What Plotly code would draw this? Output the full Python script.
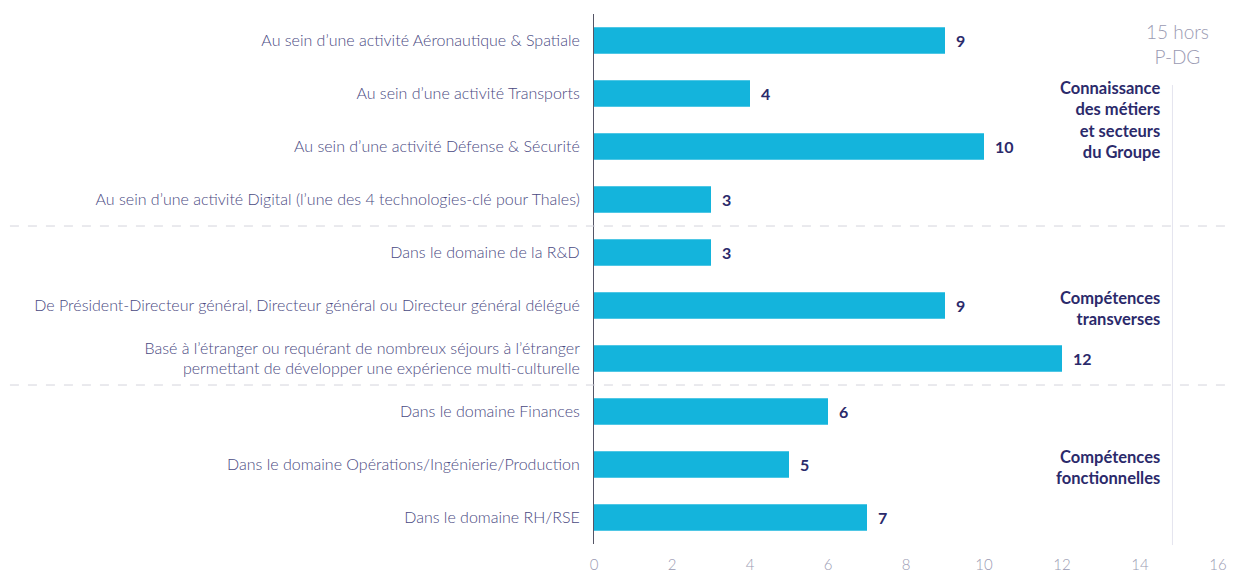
import plotly.graph_objects as go

categories = [
    "Au sein d\u2019une activité Aéronautique & Spatiale",
    "Au sein d\u2019une activité Transports",
    "Au sein d\u2019une activité Défense & Sécurité",
    "Au sein d\u2019une activité Digital (l\u2019une des 4 technologies-clé pour Thales)",
    "Dans le domaine de la R&D",
    "De Président-Directeur général, Directeur général ou Directeur général délégué",
    "Basé à l\u2019étranger ou requérant de nombreux séjours à l\u2019étranger<br>permettant de développer une expérience multi-culturelle",
    "Dans le domaine Finances",
    "Dans le domaine Opérations/Ingénierie/Production",
    "Dans le domaine RH/RSE",
]
values = [9, 4, 10, 3, 3, 9, 12, 6, 5, 7]
x_ticks = [0, 2, 4, 6, 8, 10, 12, 14, 16]
groups = [
    ("Connaissance<br>des métiers<br>et secteurs<br>du Groupe", 1.5),
    ("Compétences<br>transverses", 5.05),
    ("Compétences<br>fonctionnelles", 8.05),
]
separators = [3.5, 6.5]
header = "15 hors<br>P-DG"

BAR = "#14b4dc"
NAVY = "#2b2a6b"
LABEL = "#4a4a82"
GREY = "#9a9ab2"
FONT = "Lato"

idx = list(range(len(categories)))

fig = go.Figure()
fig.add_trace(go.Bar(
    x=values, y=idx, orientation="h",
    marker=dict(color=BAR, line=dict(width=0)),
    width=0.5, hoverinfo="skip",
))

for i, v in zip(idx, values):
    fig.add_annotation(x=v, y=i, text=f"<b>{v}</b>", showarrow=False,
                       xanchor="left", xshift=9,
                       font=dict(family=FONT, size=16, color=NAVY))

for txt, yv in groups:
    fig.add_annotation(x=0.911, xref="paper", y=yv, text=f"<b>{txt}</b>",
                       showarrow=False, xanchor="right", align="right",
                       font=dict(family=FONT, size=16.5, color=NAVY))

fig.add_annotation(x=0.935, xref="paper", y=0.06, text=header,
                   showarrow=False, xanchor="center", align="center",
                   font=dict(family=FONT, size=19, color=GREY, weight=300))

for s in separators:
    fig.add_shape(type="line", xref="paper", x0=-0.936, x1=1.02, y0=s, y1=s,
                  line=dict(color="#d4d4dc", width=1, dash="dash"))

fig.add_shape(type="line", xref="paper", yref="paper", x0=0.927, x1=0.927,
              y0=-0.002, y1=0.866, line=dict(color="#e4e4ee", width=1))

fig.update_layout(
    width=1233, height=574,
    margin=dict(l=594, r=15, t=14, b=30),
    plot_bgcolor="white", paper_bgcolor="white",
    showlegend=False, bargap=0.5,
    font=dict(family=FONT),
)
fig.update_xaxes(
    range=[0, 16], tickvals=x_ticks, showgrid=False, zeroline=False,
    showline=False, ticklabelstandoff=10, automargin=False,
    tickfont=dict(family=FONT, size=15, color=GREY, weight=300),
)
fig.update_yaxes(
    range=[9.5, -0.5], tickvals=idx, ticktext=categories,
    showgrid=False, zeroline=False, showline=True, linecolor="#555566",
    linewidth=1, ticks="", ticklabelstandoff=10, automargin=False,
    tickfont=dict(family=FONT, size=16, color=LABEL, weight=300),
)

fig.write_html("out.html")
